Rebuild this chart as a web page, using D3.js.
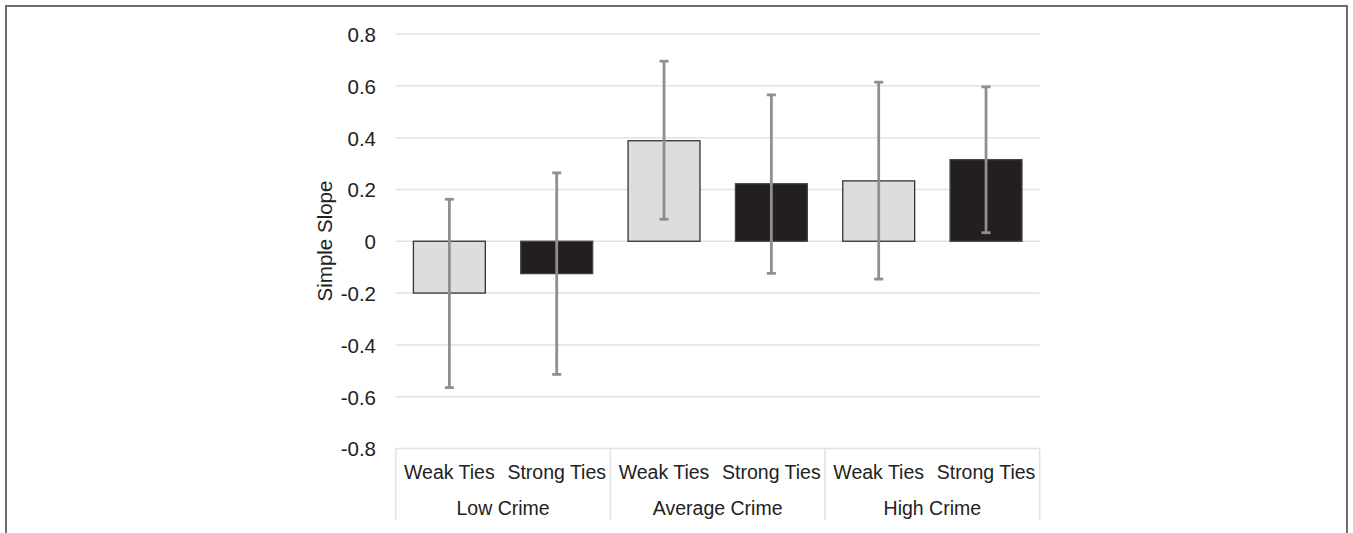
<!DOCTYPE html>
<html><head><meta charset="utf-8">
<script src="https://cdn.jsdelivr.net/npm/d3@7"></script>
<style>body{margin:0;background:#fff}svg{display:block}text{font-family:"Liberation Sans",Arial,sans-serif;fill:#222}</style>
</head><body><svg id="c" width="1353" height="533"></svg>
<script>
const groups = ["Low Crime","Average Crime","High Crime"];
const ties = ["Weak Ties","Strong Ties"];
const values = [[-0.200,-0.125],[0.388,0.222],[0.233,0.315]];
const errHigh = [[0.162,0.264],[0.695,0.565],[0.614,0.596]];
const errLow = [[-0.565,-0.514],[0.085,-0.124],[-0.146,0.033]];
const yTicks = [-0.8,-0.6,-0.4,-0.2,0,0.2,0.4,0.6,0.8];
const tieColors = ["#dcdddf","#231f20"];

const svg = d3.select("#c");
const FS_T = 20.5, FS_C = 19.5;
// frame
svg.append("path").attr("d","M6,533 V6 H1347 V533").attr("fill","none").attr("stroke","#6e6e6e").attr("stroke-width",2);

const y = d3.scaleLinear().domain([-0.8,0.8]).range([448.5,34]);
const x0 = d3.scaleBand().domain(groups).range([395.7,1039.7]).padding(0);
const x1 = d3.scaleBand().domain(ties).range([0,x0.bandwidth()]).paddingInner(0.33).paddingOuter(0.165);

// gridlines
svg.append("g").selectAll("line").data(yTicks).join("line")
  .attr("x1",395.7).attr("x2",1039.7).attr("y1",d=>y(d)).attr("y2",d=>y(d))
  .attr("stroke","#e2e2e2").attr("stroke-width",1.5);

// y axis labels
const fmt = d=>d===0?"0":d3.format(".1f")(d).replace("\u2212","-");
const yAxis = d3.axisLeft(y).tickValues(yTicks).tickSize(0).tickPadding(0).tickFormat(fmt);
const ya = svg.append("g").attr("transform","translate(376,0)").call(yAxis);
ya.select(".domain").remove();
ya.selectAll("text").attr("font-size",FS_T).attr("fill","#222").attr("font-family","Liberation Sans, Arial, sans-serif").attr("dy","0.36em");

svg.append("text").attr("transform","translate(332,241) rotate(-90)").attr("text-anchor","middle")
  .attr("font-size",FS_T).text("Simple Slope");

// bars
const data = [];
groups.forEach((g,i)=>ties.forEach((t,j)=>data.push({g,t,j,v:values[i][j],hi:errHigh[i][j],lo:errLow[i][j]})));
svg.append("g").selectAll("rect").data(data).join("rect")
  .attr("x",d=>x0(d.g)+x1(d.t)).attr("width",x1.bandwidth())
  .attr("y",d=>y(Math.max(0,d.v))).attr("height",d=>Math.abs(y(d.v)-y(0)))
  .attr("fill",d=>tieColors[d.j]).attr("stroke",d=>d.j===0?"#333":"#444").attr("stroke-width",1.3);

// error bars
const eb = svg.append("g").attr("stroke","#8f8f8f").attr("stroke-width",2.8);
data.forEach(d=>{
  const cx = x0(d.g)+x1(d.t)+x1.bandwidth()/2;
  eb.append("line").attr("x1",cx).attr("x2",cx).attr("y1",y(d.hi)).attr("y2",y(d.lo));
  eb.append("line").attr("x1",cx-4.5).attr("x2",cx+4.5).attr("y1",y(d.hi)).attr("y2",y(d.hi));
  eb.append("line").attr("x1",cx-4.5).attr("x2",cx+4.5).attr("y1",y(d.lo)).attr("y2",y(d.lo));
});

// category table
const bot = svg.append("g");
const boundaries = groups.map(g=>x0(g)).concat([x0(groups[groups.length-1])+x0.bandwidth()]);
bot.selectAll("line").data(boundaries).join("line")
  .attr("x1",d=>d).attr("x2",d=>d).attr("y1",448.5).attr("y2",520)
  .attr("stroke","#e2e2e2").attr("stroke-width",1.5);
data.forEach(d=>{
  bot.append("text").attr("x",x0(d.g)+x1(d.t)+x1.bandwidth()/2).attr("y",479)
    .attr("text-anchor","middle").attr("font-size",FS_C).text(d.t);
});
bot.selectAll("text.g").data(groups).join("text").attr("class","g")
  .attr("x",g=>x0(g)+x0.bandwidth()/2).attr("y",514.5).attr("text-anchor","middle").attr("font-size",FS_C).text(g=>g);
</script></body></html>
